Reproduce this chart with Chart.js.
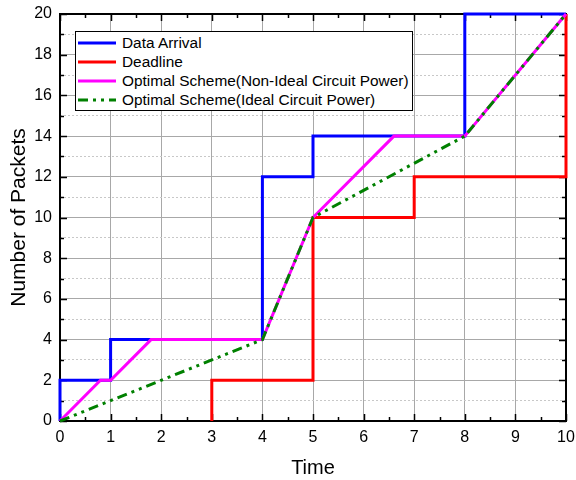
<!DOCTYPE html>
<html>
<head>
<meta charset="utf-8">
<script src="https://cdn.jsdelivr.net/npm/chart.js@4"></script>
<style>
  body { margin: 0; background: #fff; }
  #wrap { position: relative; width: 576px; height: 480px; }
  #legend {
    position: absolute; left: 75px; top: 31px; width: 336px; height: 77px;
    border: 1px solid #000; background: #fff;
    font-family: 'Liberation Sans', Arial, sans-serif; font-size: 15.4px; color: #000;
    padding-top: 1px; box-sizing: content-box;
  }
  .row { height: 19.2px; display: flex; align-items: center; }
  .row svg { margin-left: 2px; margin-right: 6px; }
</style>
</head>
<body>
<div id="wrap">
  <canvas id="chartCanvas" width="576" height="480"></canvas>
  <div id="legend"></div>
</div>
<script>
// Data
const arrivalX  = [0, 0, 1, 1, 4, 4, 5, 5, 8, 8, 10];
const arrivalY  = [0, 2, 2, 4, 4, 12, 12, 14, 14, 20, 20];
const deadlineX = [3, 3, 5, 5, 7, 7, 10, 10];
const deadlineY = [0, 2, 2, 10, 10, 12, 12, 20];
const nonIdealX = [0, 0.8, 1, 1.8, 4, 5, 6.6, 8, 10];
const nonIdealY = [0, 2, 2, 4, 4, 10, 14, 14, 20];
const idealX    = [0, 4, 5, 8, 10];
const idealY    = [0, 4, 10, 14, 20];

const seriesNames = [
  'Data Arrival',
  'Deadline',
  'Optimal Scheme(Non-Ideal Circuit Power)',
  'Optimal Scheme(Ideal Circuit Power)'
];
const seriesColors = ['#0000ff', '#ff0000', '#ff00ff', '#008000'];
const greenDash = [10, 5, 3, 5, 3, 5];

const xTicks = [0, 1, 2, 3, 4, 5, 6, 7, 8, 9, 10];
const yTicks = [0, 2, 4, 6, 8, 10, 12, 14, 16, 18, 20];

const FONT = "'Liberation Sans', Arial, sans-serif";

function pts(xs, ys) {
  return xs.map((x, i) => ({ x: x, y: ys[i] }));
}

// frame + inward ticks, drawn under the data lines
const framePlugin = {
  id: 'frame',
  beforeDatasetsDraw(chart) {
    const ctx = chart.ctx;
    const a = chart.chartArea;
    const xs = chart.scales.x, ys = chart.scales.y;
    ctx.save();
    ctx.strokeStyle = '#000';
    ctx.lineWidth = 2;
    ctx.strokeRect(a.left, a.top, a.right - a.left, a.bottom - a.top);
    ctx.lineWidth = 1.5;
    ctx.beginPath();
    for (let v = 0; v <= 10; v += 0.5) {
      const px = Math.round(xs.getPixelForValue(v)) + 0.5;
      const len = (v % 1 === 0) ? 7 : 4;
      ctx.moveTo(px, a.bottom); ctx.lineTo(px, a.bottom - len);
      ctx.moveTo(px, a.top); ctx.lineTo(px, a.top + len);
    }
    for (let v = 0; v <= 20; v += 1) {
      const py = Math.round(ys.getPixelForValue(v)) + 0.5;
      const len = (v % 2 === 0) ? 7 : 4;
      ctx.moveTo(a.left, py); ctx.lineTo(a.left + len, py);
      ctx.moveTo(a.right, py); ctx.lineTo(a.right - len, py);
    }
    ctx.stroke();
    ctx.restore();
  }
};

const canvas = document.getElementById('chartCanvas');
const myChart = new Chart(canvas.getContext('2d'), {
  type: 'line',
  data: {
    datasets: [
      { label: seriesNames[0], data: pts(arrivalX, arrivalY), borderColor: seriesColors[0], order: 3 },
      { label: seriesNames[1], data: pts(deadlineX, deadlineY), borderColor: seriesColors[1], order: 2 },
      { label: seriesNames[2], data: pts(nonIdealX, nonIdealY), borderColor: seriesColors[2], order: 1 },
      { label: seriesNames[3], data: pts(idealX, idealY), borderColor: seriesColors[3], borderDash: greenDash, order: 0 }
    ].map(d => Object.assign({
      borderWidth: 3, pointRadius: 0, tension: 0, fill: false, clip: false,
      borderJoinStyle: 'miter', borderCapStyle: 'butt'
    }, d))
  },
  options: {
    responsive: false,
    animation: false,
    events: [],
    layout: { padding: { top: 14, right: 10, left: 0, bottom: 0 } },
    plugins: { legend: { display: false }, tooltip: { enabled: false } },
    scales: {
      x: {
        type: 'linear', min: 0, max: 10,
        afterBuildTicks: s => { s.ticks = xTicks.map(v => ({ value: v })); },
        afterFit: s => { s.height = 59; s.paddingLeft = 0; s.paddingRight = 0; },
        ticks: { color: '#000', font: { family: FONT, size: 16 }, padding: 7, maxRotation: 0 },
        grid: { color: '#a8a8a8', lineWidth: 1, drawTicks: false },
        border: { display: false },
        title: { display: true, text: 'Time', color: '#000', font: { family: FONT, size: 20 }, padding: { top: 4, bottom: 0 } }
      },
      y: {
        type: 'linear', min: 0, max: 20, position: 'left',
        afterBuildTicks: s => { s.ticks = yTicks.map(v => ({ value: v })); },
        afterFit: s => { s.width = 60; s.paddingTop = 0; s.paddingBottom = 0; },
        ticks: { color: '#000', font: { family: FONT, size: 16 }, padding: 8 },
        grid: { color: '#a8a8a8', lineWidth: 1, drawTicks: false },
        border: { display: false },
        title: { display: true, text: 'Number of Packets', color: '#000', font: { family: FONT, size: 21 }, padding: { top: 7, bottom: 4 } }
      },
      yMinor: {
        type: 'linear', min: 0, max: 20, position: 'left',
        ticks: { display: false, stepSize: 1 },
        afterFit: s => { s.width = 0; },
        grid: {
          drawTicks: false, lineWidth: 1,
          color: c => (c.tick && c.tick.value % 2 === 1) ? '#c8c8c8' : 'rgba(0,0,0,0)'
        },
        border: { display: false, dash: [2, 2] }
      }
    }
  },
  plugins: [framePlugin]
});

// legend inside the plot
const legend = document.getElementById('legend');
seriesNames.forEach((name, i) => {
  const row = document.createElement('div');
  row.className = 'row';
  const dash = i === 3 ? ' stroke-dasharray="10 5 3 5 3 5"' : '';
  row.innerHTML = `<svg width="38" height="4"><line x1="0" y1="2" x2="38" y2="2" stroke="${seriesColors[i]}" stroke-width="3"${dash}/></svg><span>${name}</span>`;
  legend.appendChild(row);
});
</script>
</body>
</html>
